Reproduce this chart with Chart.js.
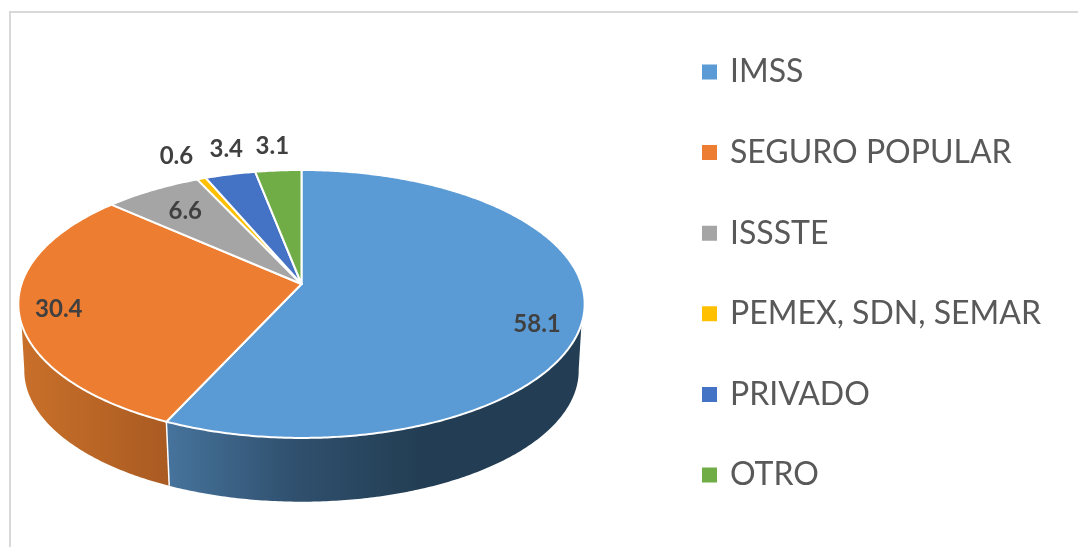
<!DOCTYPE html>
<html>
<head>
<meta charset="utf-8">
<title>Derechohabiencia</title>
<script src="https://cdn.jsdelivr.net/npm/chart.js@4"></script>
<style>
    html, body { margin: 0; padding: 0; background: #fff; overflow: hidden; }
    #wrap { position: relative; width: 1078px; height: 547px; }
    #frame { position: absolute; left: 9px; top: 11px; right: -5px; bottom: -5px; border: 2px solid #d9d9d9; }
    #myChart { position: absolute; left: 0; top: 0; }
</style>
</head>
<body>
<div id="wrap">
    <div id="frame"></div>
    <canvas id="myChart" width="1078" height="547"></canvas>
</div>
<script>
const categories = ['IMSS', 'SEGURO POPULAR', 'ISSSTE', 'PEMEX, SDN, SEMAR', 'PRIVADO', 'OTRO'];
const values = [58.1, 30.4, 6.6, 0.6, 3.4, 3.1];
const colors = ['#5b9bd5', '#ed7d31', '#a5a5a5', '#ffc000', '#4472c4', '#70ad47'];

// label shift from the rim point in the middle of each slice
const labelShift = [[-47, 11], [40, -2], [33, 21], [-25, -22], [-4, -25], [-6, -24]];

// perspective of the pie top and the bottom edge of the wall
const apex = { x: 301.5, y: 284 };
const floor = { x: 301.5, y: 351, scale: 0.979 };
const persp = { rx: 280, ry: 131, k: 0.149 };

// part of the rim that shows a wall, in radians (canvas angles)
const topFront = [17 * Math.PI / 180, 163 * Math.PI / 180];
const floorFront = [8 * Math.PI / 180, 172 * Math.PI / 180];

function rimPoint(angle, base, scale) {
    const u = Math.cos(angle);
    const v = Math.sin(angle);
    const d = 1 - persp.k * v;
    return {
        x: base.x + scale * persp.rx * u / d,
        y: base.y + scale * persp.ry * v / d
    };
}

function tracePath(ctx, a0, a1, base, scale, first) {
    const steps = Math.max(2, Math.ceil(Math.abs(a1 - a0) / 0.01));
    for (let i = 0; i <= steps; i++) {
        const p = rimPoint(a0 + (a1 - a0) * i / steps, base, scale);
        if (i === 0 && first) ctx.moveTo(p.x, p.y);
        else ctx.lineTo(p.x, p.y);
    }
}

function wallFill(ctx, index) {
    if (index === 0) {
        const g = ctx.createLinearGradient(168, 0, 420, 0);
        g.addColorStop(0, '#46739c');
        g.addColorStop(0.5, '#30506e');
        g.addColorStop(1, '#233e54');
        return g;
    }
    const g = ctx.createLinearGradient(20, 0, 168, 0);
    g.addColorStop(0, '#c9702a');
    g.addColorStop(1, '#aa5b22');
    return g;
}

const pie3d = {
    id: 'pie3d',
    afterLayout(chart) {
        // legend sits at a fixed column, not against the canvas edge
        const legend = chart.legend;
        const width = legend.right - legend.left;
        legend.left = 705 - chart.options.plugins.legend.labels.padding;
        legend.right = legend.left + width;
    },
    beforeDatasetDraw(chart, args) {
        const ctx = chart.ctx;
        const arcs = args.meta.data;

        ctx.save();
        ctx.lineJoin = 'round';

        // front walls, only slices that reach the front of the rim
        arcs.forEach((arc, i) => {
            const t0 = Math.max(arc.startAngle, topFront[0]);
            const t1 = Math.min(arc.endAngle, topFront[1]);
            if (t0 >= t1) return;
            const f0 = Math.max(arc.startAngle, floorFront[0]);
            const f1 = Math.min(arc.endAngle, floorFront[1]);
            ctx.beginPath();
            tracePath(ctx, t0, t1, apex, 1, true);
            tracePath(ctx, f1, f0, floor, floor.scale, false);
            ctx.closePath();
            ctx.fillStyle = wallFill(ctx, i);
            ctx.fill();
        });

        // seam between the two front walls
        const seam = arcs[0].endAngle;
        const seamTop = rimPoint(seam, apex, 1);
        const seamBottom = rimPoint(seam, floor, floor.scale);
        ctx.beginPath();
        ctx.moveTo(seamTop.x, seamTop.y);
        ctx.lineTo(seamBottom.x, seamBottom.y);
        ctx.strokeStyle = '#fff';
        ctx.lineWidth = 1.5;
        ctx.stroke();

        // top faces
        arcs.forEach((arc, i) => {
            ctx.beginPath();
            ctx.moveTo(apex.x, apex.y);
            tracePath(ctx, arc.startAngle, arc.endAngle, apex, 1, false);
            ctx.closePath();
            ctx.fillStyle = colors[i];
            ctx.fill();
            ctx.strokeStyle = '#fff';
            ctx.lineWidth = 2;
            ctx.stroke();
        });

        // value labels
        ctx.font = 'bold 24px Lato';
        ctx.fillStyle = '#404040';
        ctx.textAlign = 'center';
        ctx.textBaseline = 'middle';
        arcs.forEach((arc, i) => {
            const p = rimPoint((arc.startAngle + arc.endAngle) / 2, apex, 1);
            ctx.fillText(values[i].toFixed(1), p.x + labelShift[i][0], p.y + labelShift[i][1]);
        });

        ctx.restore();
        return false;
    }
};

new Chart(document.getElementById('myChart').getContext('2d'), {
    type: 'pie',
    data: {
        labels: categories,
        datasets: [{
            data: values,
            backgroundColor: colors,
            borderColor: '#fff',
            borderWidth: 2
        }]
    },
    options: {
        responsive: false,
        animation: false,
        rotation: 0,
        plugins: {
            title: { display: false },
            tooltip: { enabled: false },
            legend: {
                display: true,
                position: 'right',
                labels: {
                    // small box with a thick same colour border, keeps the text closer to it
                    boxWidth: 9,
                    boxHeight: 9,
                    padding: 48.6,
                    color: '#595959',
                    font: { family: 'Lato', size: 32 },
                    generateLabels(chart) {
                        const items = Chart.overrides.pie.plugins.legend.labels.generateLabels(chart);
                        items.forEach(item => {
                            item.strokeStyle = item.fillStyle;
                            item.lineWidth = 6;
                        });
                        return items;
                    }
                }
            }
        }
    },
    plugins: [pie3d]
});
</script>
</body>
</html>
